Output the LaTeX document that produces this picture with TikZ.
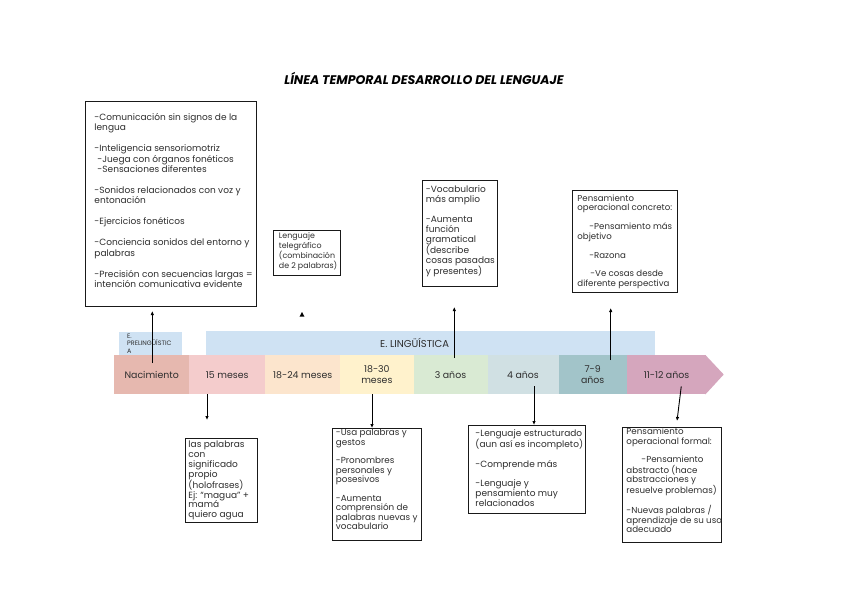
\documentclass[tikz,border=0pt]{standalone}
\usepackage{fontspec}
\setmainfont{Poppins}
\usetikzlibrary{arrows.meta,calc}
\definecolor{txt}{HTML}{2E2E2E}
\definecolor{cbar}{HTML}{CFE2F3}
\definecolor{cnac}{HTML}{E6B8AF}
\definecolor{cfif}{HTML}{F4CCCC}
\definecolor{cetf}{HTML}{FCE5CD}
\definecolor{cett}{HTML}{FFF2CC}
\definecolor{cthr}{HTML}{D9EAD3}
\definecolor{cfou}{HTML}{D0E0E3}
\definecolor{csev}{HTML}{A2C4C9}
\definecolor{celv}{HTML}{D5A6BD}
\newcommand{\bxt}[4]{\parbox[c][#2][t]{#1}{\vspace*{#3}\begin{tabular}[t]{@{}l@{}}#4\end{tabular}}}
\tikzset{
  titlestyle/.style={font=\fontsize{12.5}{14}\selectfont\bfseries\itshape, text=black},
  barstyle/.style={fill=cbar, anchor=north west, inner sep=0pt, text=txt},
  seg/.style={anchor=north west, minimum height=39pt, inner sep=0pt, text=txt, align=center,
    font=\fontsize{9.4}{11.6}\selectfont},
  tbox/.style={draw=black!90, line width=0.9pt, anchor=north west, inner ysep=0pt, text=txt},
  arr/.style={draw=black, line width=0.9pt, -{Latex[length=4pt,width=3.5pt]}},
}
\begin{document}
\begin{tikzpicture}[x=1pt,y=-1pt]
\useasboundingbox (0,0) rectangle (848,600);
\fill[white] (0,0) rectangle (848,600);

\node[titlestyle] (title) at (424,78) {LÍNEA TEMPORAL DESARROLLO DEL LENGUAJE};

% stage bars
\node[barstyle, minimum width=63pt, minimum height=23pt] (pre) at (119,332)
  {\parbox[c]{47pt}{\fontsize{6.4}{7.4}\selectfont E.\\PRELINGÜÍSTIC\\A}};
\node[barstyle, minimum width=449pt, minimum height=24pt] (ling) at (206,331)
  {\makebox[449pt][l]{\hspace{174pt}\fontsize{10}{12}\selectfont E. LINGÜÍSTICA}};

% timeline segments
\node[seg, fill=cnac, minimum width=75pt] (nac) at (114,355) {Nacimiento};
\node[seg, fill=cfif, minimum width=76pt] (s15) at (189,355) {15 meses};
\node[seg, fill=cetf, minimum width=75pt] (s1824) at (265,355) {18-24 meses};
\node[seg, fill=cett, minimum width=73.3pt] (s1830) at (340,355) {18-30\\meses};
\node[seg, fill=cthr, minimum width=74pt] (s3) at (413.3,355) {3 años};
\node[seg, fill=cfou, minimum width=71pt] (s4) at (487.3,355) {4 años};
\node[seg, fill=csev, minimum width=68.4pt] (s79) at (558.3,355) {7-9\\años};
\node[seg, fill=celv, minimum width=79.3pt] (s1112) at (626.7,355) {11-12 años};
\fill[celv] ($(s1112.north east)+(-1,0)$) -- ++(18.3,19.5) -- ($(s1112.south east)+(-1,0)$) -- cycle;

% text boxes
\node[tbox, inner xsep=9pt, font=\fontsize{9}{10.45}\selectfont] (b1) at (85,101)
 {\bxt{153pt}{205pt}{11.6pt}{%
-Comunicación sin signos de la\\
lengua\\
\\
-Inteligencia sensoriomotriz\\
\hspace{3pt}-Juega con órganos fonéticos\\
\hspace{3pt}-Sensaciones diferentes\\
\\
-Sonidos relacionados con voz y\\
entonación\\
\\
-Ejercicios fonéticos\\
\\
-Conciencia sonidos del entorno y\\
palabras\\
\\
-Precisión con secuencias largas =\\
intención comunicativa evidente}};

\node[tbox, inner xsep=5.5pt, font=\fontsize{7.9}{9.1}\selectfont] (b2) at (273,230)
 {\bxt{56pt}{45pt}{2.1pt}{%
Lenguaje\\
telegráfico\\
(combinación\\
de 2 palabras)}};

\node[tbox, inner xsep=3.5pt, font=\fontsize{9}{9.8}\selectfont] (b3) at (422,180)
 {\bxt{68pt}{106pt}{5.4pt}{%
-Vocabulario\\
más amplio\\
\\
-Aumenta\\
función\\
gramatical\\
(describe\\
cosas pasadas\\
y presentes)}};

\node[tbox, inner xsep=5pt, font=\fontsize{8.6}{9.45}\selectfont] (b4) at (572,190)
 {\bxt{95pt}{102pt}{4.2pt}{%
Pensamiento\\
operacional concreto:\\
\\
\hspace{12pt}-Pensamiento más\\
objetivo\\
\\
\hspace{12pt}-Razona\\
\\
\hspace{13pt}-Ve cosas desde\\
diferente perspectiva}};

\node[tbox, inner xsep=3pt, font=\fontsize{9}{9.6}\selectfont] (b5) at (185,438)
 {\bxt{66pt}{84pt}{2.8pt}{%
las palabras\\
con\\
significado\\
propio\\
(holofrases)\\
Ej: “magua” +\\
mamá\\
quiero agua}};

\node[tbox, inner xsep=3.5pt, font=\fontsize{8.8}{9.3}\selectfont] (b6) at (332,428)
 {\bxt{82pt}{112pt}{1pt}{%
-Usa palabras y\\
gestos\\
\\
-Pronombres\\
personales y\\
posesivos\\
\\
-Aumenta\\
comprensión de\\
palabras nuevas y\\
vocabulario}};

\node[tbox, inner xsep=7pt, font=\fontsize{9}{9.8}\selectfont] (b7) at (468,425)
 {\bxt{103pt}{88pt}{3.9pt}{%
-Lenguaje estructurado\\
(aun así es incompleto)\\
\\
-Comprende más\\
\\
-Lenguaje y\\
pensamiento muy\\
relacionados}};

\node[tbox, inner xsep=4pt, font=\fontsize{8.7}{9.1}\selectfont] (b8) at (622,427)
 {\bxt{91pt}{115pt}{0.8pt}{%
Pensamiento\\
operacional formal:\\
\\
\hspace{15pt}-Pensamiento\\
abstracto (hace\\
abstracciones y\\
resuelve problemas)\\
\\
-Nuevas palabras /\\
aprendizaje de su uso\\
adecuado}};

% connectors
\coordinate (a1) at (152.3,311);
\draw[arr] ($(nac.north -| a1)+(0,8)$) -- (a1);
\coordinate (a2) at (207,420);
\draw[arr] (s15.south -| a2) -- (a2);
\coordinate (x3) at (372,400);
\draw[arr] (s1830.south -| x3) -- (b6.north -| x3);
\coordinate (a4) at (454.3,307);
\draw[arr] ($(s3.north -| a4)+(0,3)$) -- (a4);
\coordinate (x5) at (534,400);
\draw[arr] ($(s4.south -| x5)+(0,-8)$) -- (b7.north -| x5);
\coordinate (a6) at (610.7,308);
\draw[arr] ($(s79.north -| a6)+(0,5)$) -- (a6);
\coordinate (a7) at (677,421);
\draw[arr] ($(s1112.south)+(14.7,-8)$) -- (a7);
% stray arrowhead
\fill[black] (302,312) -- (304.4,316.5) -- (299.6,316.5) -- cycle;
\end{tikzpicture}
\end{document}
